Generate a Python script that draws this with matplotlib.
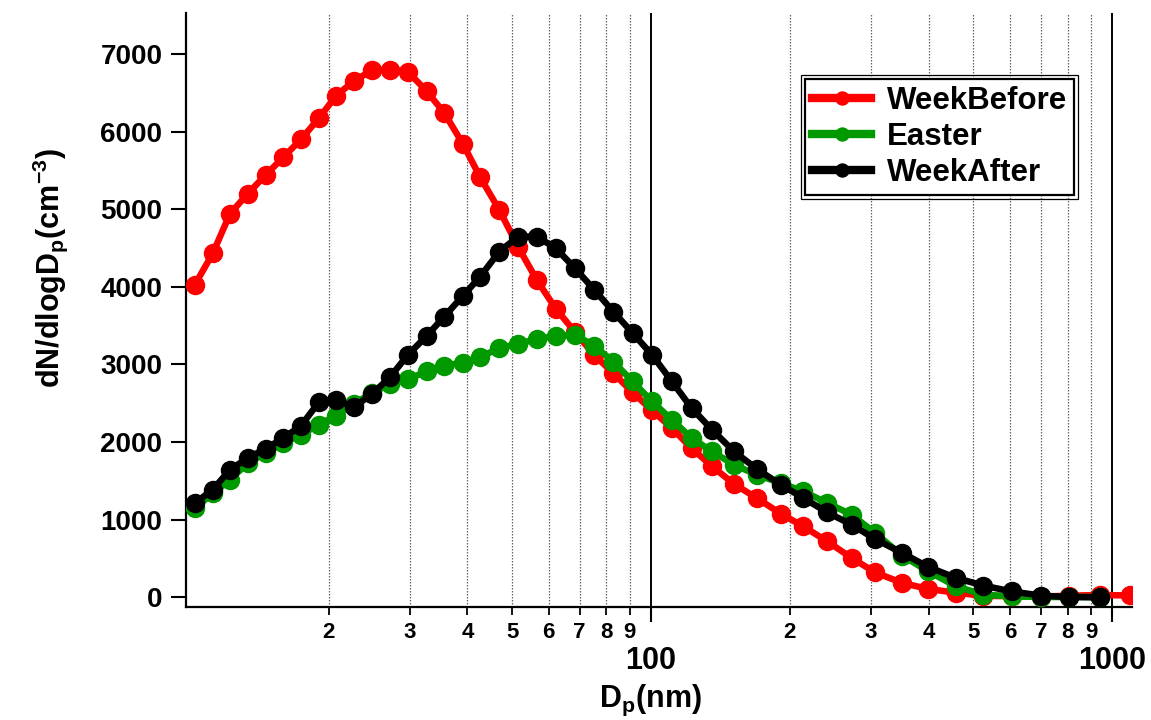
import matplotlib
matplotlib.use("Agg")
import matplotlib.pyplot as plt
from matplotlib.patches import Rectangle
from matplotlib.ticker import FixedLocator, FixedFormatter

plt.rcParams['font.family'] = ['Liberation Sans', 'DejaVu Sans']
plt.rcParams['font.weight'] = 'bold'
plt.rcParams['mathtext.fontset'] = 'custom'
plt.rcParams['mathtext.rm'] = 'Liberation Sans:bold'
plt.rcParams['mathtext.it'] = 'Liberation Sans:bold'
plt.rcParams['mathtext.bf'] = 'Liberation Sans:bold'

# particle diameter bins (nm)
dp_nm = [10.27, 11.22, 12.23, 13.36, 14.61, 15.96, 17.43, 19.04, 20.76, 22.67,
         24.85, 27.14, 29.74, 32.65, 35.64, 39.13, 42.65, 46.91, 51.57, 56.53,
         62.14, 68.41, 75.35, 82.83, 91.27, 100.5, 111.0, 122.5, 135.6, 151.3,
         169.5, 191.1, 213.9, 241.1, 272.3, 306.0, 350.6, 399.1, 458.4, 525.3,
         605.2, 700.6, 806.9, 940.5, 1092.3]

# dN/dlogDp (cm-3)
week_before = [4030, 4430, 4940, 5200, 5440, 5670, 5900, 6170, 6460, 6650,
               6790, 6800, 6770, 6520, 6240, 5840, 5410, 4990, 4510, 4090,
               3720, 3420, 3120, 2890, 2640, 2410, 2180, 1920, 1690, 1460,
               1280, 1078, 914, 721, 507, 322, 185, 108, 60, 20,
               15, 10, 22, 30, 25]
easter = [1150, 1340, 1515, 1730, 1859, 1988, 2095, 2224, 2339, 2494,
          2631, 2747, 2812, 2910, 2983, 3025, 3095, 3211, 3266, 3327,
          3369, 3382, 3241, 3038, 2781, 2524, 2288, 2052, 1880, 1708,
          1580, 1472, 1365, 1215, 1065, 829, 537, 335, 142, 35,
          13, 5, 5, 5]
week_after = [1215, 1387, 1644, 1795, 1915, 2052, 2211, 2511, 2545, 2451,
              2619, 2833, 3125, 3369, 3618, 3885, 4133, 4455, 4648, 4648,
              4499, 4241, 3962, 3682, 3404, 3125, 2781, 2438, 2159, 1880,
              1655, 1451, 1280, 1094, 936, 752, 571, 391, 250, 151,
              77, 22, 5, 0]

minor_pos = [20, 30, 40, 50, 60, 70, 80, 90, 200, 300, 400, 500, 600, 700, 800, 900]
minor_lbl = ['2', '3', '4', '5', '6', '7', '8', '9'] * 2

W, H = 1151, 720
fig = plt.figure(figsize=(W / 100, H / 100), dpi=100)
ax = fig.add_axes([186 / W, (H - 607) / H, (1132 - 186) / W, (607 - 13) / H])

ms = 13
lw = 4.7
ax.plot(dp_nm, week_before, color='#ff0000', marker='o', ms=ms, lw=lw, label='WeekBefore', zorder=3)
ax.plot(dp_nm[:len(easter)], easter, color='#009900', marker='o', ms=ms, lw=lw, label='Easter', zorder=4)
ax.plot(dp_nm[:len(week_after)], week_after, color='black', marker='o', ms=ms, lw=lw, label='WeekAfter', zorder=5)

ax.set_xscale('log')
ax.set_xlim(9.82, 1103)
ax.set_ylim(-124, 7528)

ax.xaxis.set_major_locator(FixedLocator([100, 1000]))
ax.xaxis.set_major_formatter(FixedFormatter(['100', '1000']))
ax.xaxis.set_minor_locator(FixedLocator(minor_pos))
ax.xaxis.set_minor_formatter(FixedFormatter(minor_lbl))
ax.set_yticks(range(0, 8000, 1000))

ax.grid(which='minor', axis='x', color='#666666', lw=0.9, linestyle=(0, (1.2, 1.2)))
ax.grid(which='major', axis='x', color='black', lw=1.4)
ax.set_axisbelow(True)

for side in ['top', 'right']:
    ax.spines[side].set_visible(False)
for side in ['left', 'bottom']:
    ax.spines[side].set_linewidth(1.6)

ax.tick_params(axis='x', which='minor', length=6, width=1.3, labelsize=16, pad=5, direction='out')
ax.tick_params(axis='x', which='major', length=11, width=1.5, labelsize=22, pad=17, direction='out')
ax.tick_params(axis='y', which='major', length=11, width=1.5, labelsize=20, pad=6, direction='out')

for lbl in ax.get_xticklabels(which='both') + ax.get_yticklabels():
    lbl.set_weight('bold')

fig.text(50 / W, 1 - 268 / H, r'dN/dlogD$_\mathrm{p}$(cm$^\mathrm{-3}$)', rotation=90,
         ha='center', va='center', fontsize=22, fontweight='bold')
fig.text(650 / W, 1 - 700 / H, r'D$_\mathrm{p}$(nm)', ha='center', va='center',
         fontsize=22, fontweight='bold')

leg = ax.legend(loc='upper left', bbox_to_anchor=(805 / W, 1 - 79 / H), bbox_transform=fig.transFigure,
                fontsize=22.5, frameon=True, fancybox=False, edgecolor='black', framealpha=1,
                handlelength=1.9, handletextpad=0.5, labelspacing=0.2, borderpad=0.22,
                markerscale=0.72, borderaxespad=0)
leg.get_frame().set_linewidth(1.6)
for t in leg.get_texts():
    t.set_fontweight('bold')
for h in leg.legend_handles:
    h.set_linewidth(6)

# outer rule of the double legend frame
fig.canvas.draw()
bb = leg.get_window_extent()
pad = 4
outer = Rectangle((bb.x0 - pad, bb.y0 - pad), bb.width + 2 * pad, bb.height + 2 * pad,
                  transform=None, fill=False, edgecolor='black', lw=0.9, zorder=10)
fig.patches.append(outer)

fig.savefig('out.png', dpi=100)
